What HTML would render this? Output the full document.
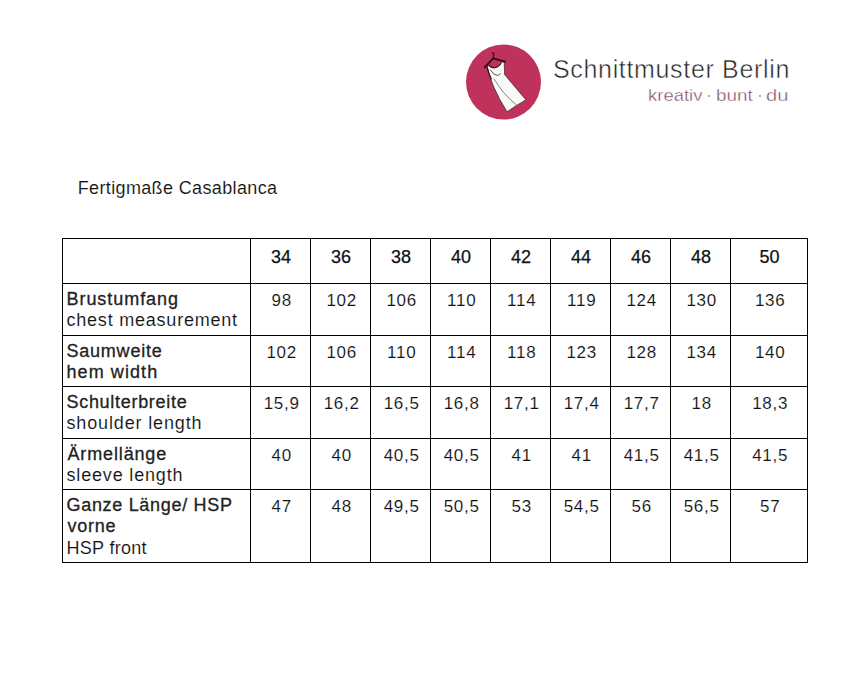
<!DOCTYPE html>
<html><head><meta charset="utf-8">
<style>
html,body{margin:0;padding:0;background:#fff;}
body{width:861px;height:679px;position:relative;overflow:hidden;font-family:"Liberation Sans",sans-serif;color:#222;}
.l{position:absolute;background:#000;}
.t{position:absolute;white-space:nowrap;line-height:1;}
.r{-webkit-text-stroke:0.12px #fff;color:#111;}
.b{-webkit-text-stroke:0.3px #222;}
.n{position:absolute;white-space:nowrap;line-height:1;text-align:center;}
.h{-webkit-text-stroke:0.25px #111;color:#111;}
</style></head><body>

<div class="l" style="left:62px;top:238px;width:1px;height:325px"></div>
<div class="l" style="left:250px;top:238px;width:1px;height:325px"></div>
<div class="l" style="left:310px;top:238px;width:1px;height:325px"></div>
<div class="l" style="left:370px;top:238px;width:1px;height:325px"></div>
<div class="l" style="left:430px;top:238px;width:1px;height:325px"></div>
<div class="l" style="left:490px;top:238px;width:1px;height:325px"></div>
<div class="l" style="left:550px;top:238px;width:1px;height:325px"></div>
<div class="l" style="left:610px;top:238px;width:1px;height:325px"></div>
<div class="l" style="left:670px;top:238px;width:1px;height:325px"></div>
<div class="l" style="left:730px;top:238px;width:1px;height:325px"></div>
<div class="l" style="left:807px;top:238px;width:1px;height:325px"></div>
<div class="l" style="left:62px;top:238px;width:746px;height:1px"></div>
<div class="l" style="left:62px;top:283px;width:746px;height:1px"></div>
<div class="l" style="left:62px;top:335px;width:746px;height:1px"></div>
<div class="l" style="left:62px;top:386px;width:746px;height:1px"></div>
<div class="l" style="left:62px;top:438px;width:746px;height:1px"></div>
<div class="l" style="left:62px;top:489px;width:746px;height:1px"></div>
<div class="l" style="left:62px;top:562px;width:746px;height:1px"></div>
<div class="n h" style="left:251px;width:60px;top:248.26px;font-size:18px">34</div>
<div class="n h" style="left:311px;width:60px;top:248.26px;font-size:18px">36</div>
<div class="n h" style="left:371px;width:60px;top:248.26px;font-size:18px">38</div>
<div class="n h" style="left:431px;width:60px;top:248.26px;font-size:18px">40</div>
<div class="n h" style="left:491px;width:60px;top:248.26px;font-size:18px">42</div>
<div class="n h" style="left:551px;width:60px;top:248.26px;font-size:18px">44</div>
<div class="n h" style="left:611px;width:60px;top:248.26px;font-size:18px">46</div>
<div class="n h" style="left:671px;width:60px;top:248.26px;font-size:18px">48</div>
<div class="n h" style="left:731px;width:77px;top:248.26px;font-size:18px">50</div>
<div class="n r" style="left:251.7px;width:60px;top:292.11px;font-size:17px;letter-spacing:0.75px">98</div>
<div class="n r" style="left:311.7px;width:60px;top:292.11px;font-size:17px;letter-spacing:0.75px">102</div>
<div class="n r" style="left:371.7px;width:60px;top:292.11px;font-size:17px;letter-spacing:0.75px">106</div>
<div class="n r" style="left:431.7px;width:60px;top:292.11px;font-size:17px;letter-spacing:0.75px">110</div>
<div class="n r" style="left:491.7px;width:60px;top:292.11px;font-size:17px;letter-spacing:0.75px">114</div>
<div class="n r" style="left:551.7px;width:60px;top:292.11px;font-size:17px;letter-spacing:0.75px">119</div>
<div class="n r" style="left:611.7px;width:60px;top:292.11px;font-size:17px;letter-spacing:0.75px">124</div>
<div class="n r" style="left:671.7px;width:60px;top:292.11px;font-size:17px;letter-spacing:0.75px">130</div>
<div class="n r" style="left:731.7px;width:77px;top:292.11px;font-size:17px;letter-spacing:0.75px">136</div>
<div class="n r" style="left:251.7px;width:60px;top:344.11px;font-size:17px;letter-spacing:0.75px">102</div>
<div class="n r" style="left:311.7px;width:60px;top:344.11px;font-size:17px;letter-spacing:0.75px">106</div>
<div class="n r" style="left:371.7px;width:60px;top:344.11px;font-size:17px;letter-spacing:0.75px">110</div>
<div class="n r" style="left:431.7px;width:60px;top:344.11px;font-size:17px;letter-spacing:0.75px">114</div>
<div class="n r" style="left:491.7px;width:60px;top:344.11px;font-size:17px;letter-spacing:0.75px">118</div>
<div class="n r" style="left:551.7px;width:60px;top:344.11px;font-size:17px;letter-spacing:0.75px">123</div>
<div class="n r" style="left:611.7px;width:60px;top:344.11px;font-size:17px;letter-spacing:0.75px">128</div>
<div class="n r" style="left:671.7px;width:60px;top:344.11px;font-size:17px;letter-spacing:0.75px">134</div>
<div class="n r" style="left:731.7px;width:77px;top:344.11px;font-size:17px;letter-spacing:0.75px">140</div>
<div class="n r" style="left:251.7px;width:60px;top:395.11px;font-size:17px;letter-spacing:0.75px">15,9</div>
<div class="n r" style="left:311.7px;width:60px;top:395.11px;font-size:17px;letter-spacing:0.75px">16,2</div>
<div class="n r" style="left:371.7px;width:60px;top:395.11px;font-size:17px;letter-spacing:0.75px">16,5</div>
<div class="n r" style="left:431.7px;width:60px;top:395.11px;font-size:17px;letter-spacing:0.75px">16,8</div>
<div class="n r" style="left:491.7px;width:60px;top:395.11px;font-size:17px;letter-spacing:0.75px">17,1</div>
<div class="n r" style="left:551.7px;width:60px;top:395.11px;font-size:17px;letter-spacing:0.75px">17,4</div>
<div class="n r" style="left:611.7px;width:60px;top:395.11px;font-size:17px;letter-spacing:0.75px">17,7</div>
<div class="n r" style="left:671.7px;width:60px;top:395.11px;font-size:17px;letter-spacing:0.75px">18</div>
<div class="n r" style="left:731.7px;width:77px;top:395.11px;font-size:17px;letter-spacing:0.75px">18,3</div>
<div class="n r" style="left:251.7px;width:60px;top:447.11px;font-size:17px;letter-spacing:0.75px">40</div>
<div class="n r" style="left:311.7px;width:60px;top:447.11px;font-size:17px;letter-spacing:0.75px">40</div>
<div class="n r" style="left:371.7px;width:60px;top:447.11px;font-size:17px;letter-spacing:0.75px">40,5</div>
<div class="n r" style="left:431.7px;width:60px;top:447.11px;font-size:17px;letter-spacing:0.75px">40,5</div>
<div class="n r" style="left:491.7px;width:60px;top:447.11px;font-size:17px;letter-spacing:0.75px">41</div>
<div class="n r" style="left:551.7px;width:60px;top:447.11px;font-size:17px;letter-spacing:0.75px">41</div>
<div class="n r" style="left:611.7px;width:60px;top:447.11px;font-size:17px;letter-spacing:0.75px">41,5</div>
<div class="n r" style="left:671.7px;width:60px;top:447.11px;font-size:17px;letter-spacing:0.75px">41,5</div>
<div class="n r" style="left:731.7px;width:77px;top:447.11px;font-size:17px;letter-spacing:0.75px">41,5</div>
<div class="n r" style="left:251.7px;width:60px;top:498.11px;font-size:17px;letter-spacing:0.75px">47</div>
<div class="n r" style="left:311.7px;width:60px;top:498.11px;font-size:17px;letter-spacing:0.75px">48</div>
<div class="n r" style="left:371.7px;width:60px;top:498.11px;font-size:17px;letter-spacing:0.75px">49,5</div>
<div class="n r" style="left:431.7px;width:60px;top:498.11px;font-size:17px;letter-spacing:0.75px">50,5</div>
<div class="n r" style="left:491.7px;width:60px;top:498.11px;font-size:17px;letter-spacing:0.75px">53</div>
<div class="n r" style="left:551.7px;width:60px;top:498.11px;font-size:17px;letter-spacing:0.75px">54,5</div>
<div class="n r" style="left:611.7px;width:60px;top:498.11px;font-size:17px;letter-spacing:0.75px">56</div>
<div class="n r" style="left:671.7px;width:60px;top:498.11px;font-size:17px;letter-spacing:0.75px">56,5</div>
<div class="n r" style="left:731.7px;width:77px;top:498.11px;font-size:17px;letter-spacing:0.75px">57</div>
<div class="t b" style="left:66.50px;top:290.06px;font-size:18px;letter-spacing:0.950px">Brustumfang</div>
<div class="t r" style="left:66.50px;top:311.36px;font-size:18px;letter-spacing:0.781px">chest measurement</div>
<div class="t b" style="left:66.50px;top:342.06px;font-size:18px;letter-spacing:0.775px">Saumweite</div>
<div class="t b" style="left:66.50px;top:363.36px;font-size:18px;letter-spacing:1.075px">hem width</div>
<div class="t b" style="left:66.50px;top:393.06px;font-size:18px;letter-spacing:0.700px">Schulterbreite</div>
<div class="t r" style="left:66.50px;top:414.36px;font-size:18px;letter-spacing:0.857px">shoulder length</div>
<div class="t b" style="left:67.50px;top:445.06px;font-size:18px;letter-spacing:0.856px">Ärmellänge</div>
<div class="t r" style="left:66.50px;top:466.36px;font-size:18px;letter-spacing:0.825px">sleeve length</div>
<div class="t b" style="left:66.50px;top:496.06px;font-size:18px;letter-spacing:0.687px">Ganze Länge/ HSP</div>
<div class="t b" style="left:67.50px;top:517.36px;font-size:18px;letter-spacing:0.750px">vorne</div>
<div class="t r" style="left:66.50px;top:538.66px;font-size:18px;letter-spacing:0.300px">HSP front</div>
<div class="t r" style="left:77.70px;top:179.26px;font-size:18px;letter-spacing:0.365px">Fertigmaße Casablanca</div>
<svg style="position:absolute;left:0;top:0" width="861" height="679">
<circle cx="503.5" cy="82" r="37.5" fill="#be325c"/>
<path d="M486.6 65.6 Q488.5 65.3 489.5 66.5 Q494.5 70.5 500.5 64.5 L502.3 61.8 L504.2 62 L504.6 74.6 L525.8 99.7 Q521 103 516.7 105.3 L507 111.8 Q499 99 493.8 87 Q489.5 77 486.6 65.6 Z" fill="#fafafa" stroke="#3a2028" stroke-width="0.7"/>
<path d="M486.8 65.8 Q488.5 73 491.5 79.5" fill="none" stroke="#2a1018" stroke-width="1.1"/>
<path d="M489 65.2 Q494.5 70.5 500.8 64.3" fill="none" stroke="#2a1018" stroke-width="1"/>
<path d="M490 69.5 Q493.5 75 497.3 75.4 Q499 75.2 500.5 73.5" fill="none" stroke="#3a2a30" stroke-width="0.8"/>
<path d="M494 78.6 Q502 93 516.7 105.3" fill="none" stroke="#5a4a50" stroke-width="0.7"/>
<path d="M484.2 67.8 L493.2 58.4 L505.8 61.9" fill="none" stroke="#2a0a14" stroke-width="1.8" stroke-linejoin="round"/>
<path d="M493.2 58.4 L493.5 56 Q494.3 53.8 493.4 52.9 Q492.5 52.4 491.9 53.6" fill="none" stroke="#2a0a14" stroke-width="1.1"/>
</svg>
<div class="t" style="left:553.00px;top:57.34px;font-size:25px;color:#222;-webkit-text-stroke:0.5px #fff;letter-spacing:0.663px">Schnittmuster Berlin</div>
<div class="t" style="left:647.91px;top:87.31px;font-size:17px;color:#864a66;-webkit-text-stroke:0.35px #fff;transform:scaleX(1.0878);transform-origin:0 0">kreativ</div>
<div class="t" style="left:715.89px;top:87.31px;font-size:17px;color:#864a66;-webkit-text-stroke:0.35px #fff;transform:scaleX(1.1094);transform-origin:0 0">bunt</div>
<div class="t" style="left:766.02px;top:87.31px;font-size:17px;color:#864a66;-webkit-text-stroke:0.35px #fff;transform:scaleX(1.1824);transform-origin:0 0">du</div>
<div style="position:absolute;left:707.80px;top:95.2px;width:2px;height:2px;border-radius:1px;background:#b08098"></div>
<div style="position:absolute;left:758.60px;top:95.2px;width:2px;height:2px;border-radius:1px;background:#b08098"></div>
</body></html>
